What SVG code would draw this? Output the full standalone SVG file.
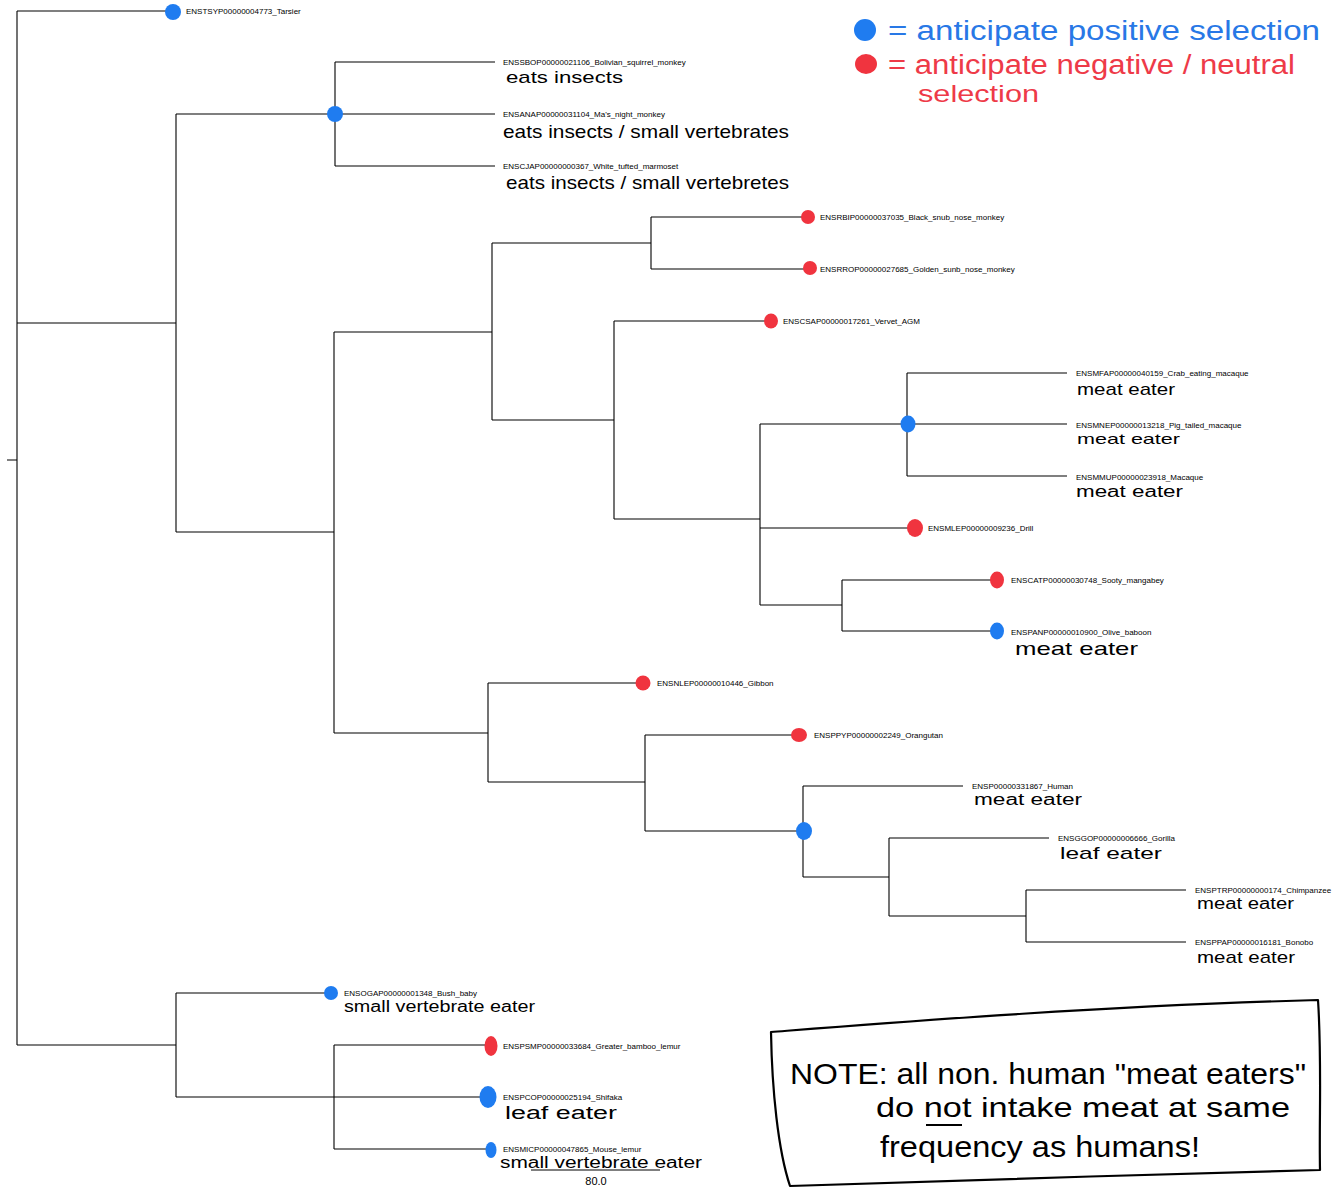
<svg xmlns="http://www.w3.org/2000/svg" width="1339" height="1193" viewBox="0 0 1339 1193">
<style>
.e{fill:none;stroke:#000;stroke-width:1.1}
.lb{font-family:"Liberation Sans",Arial,sans-serif;font-size:8px;fill:#000}
.hw{font-family:"Liberation Sans",Arial,sans-serif;font-size:17px;fill:#000}
.bd{fill:#1f7cf0}
.rd{fill:#f0343f}
.lgb{font-family:"Liberation Sans",Arial,sans-serif;font-size:27px;fill:#2878e6}
.lgr{font-family:"Liberation Sans",Arial,sans-serif;font-size:27px;fill:#ee3a48}
.nt{font-family:"Liberation Sans",Arial,sans-serif;font-size:29px;fill:#000}
</style>
<rect width="1339" height="1193" fill="#fff"/>
<g id="connectors">
<path class="e" d="M7,460H17M17,11V1045M17,11H172M17,323H176M17,1045H176"/>
<path class="e" d="M176,114V532M176,114H335M176,532H334"/>
<path class="e" d="M335,62V166M335,62H495M335,114H495M335,166H495"/>
<path class="e" d="M334,332V733M334,332H492M334,733H488"/>
<path class="e" d="M492,243V420M492,243H651M492,420H614"/>
<path class="e" d="M651,217V269M651,217H806M651,269H808"/>
<path class="e" d="M614,321V519M614,321H770M614,519H760"/>
<path class="e" d="M760,424V605M760,424H907M760,528H914M760,605H842"/>
<path class="e" d="M907,373V476M907,373H1067M907,424H1067M907,476H1067"/>
<path class="e" d="M842,580V631M842,580H996M842,631H996"/>
<path class="e" d="M488,683V782M488,683H643M488,782H645"/>
<path class="e" d="M645,735V831M645,735H798M645,831H803"/>
<path class="e" d="M803,786V877M803,786H963M803,877H889"/>
<path class="e" d="M889,838V916M889,838H1049M889,916H1026"/>
<path class="e" d="M1026,890V942M1026,890H1186M1026,942H1186"/>
<path class="e" d="M176,993V1097M176,993H330M176,1097H334"/>
<path class="e" d="M334,1045V1149M334,1045H490M334,1097H488M334,1149H490"/>
</g>
<g id="scale">
<path class="e" d="M531,1170H660"/>
<text class="lb" x="596" y="1185" text-anchor="middle" style="font-size:11px">80.0</text>
</g>
<g id="node-tarsier"><ellipse class="bd" cx="173" cy="12" rx="8" ry="8"/><text class="lb" x="186" y="14">ENSTSYP00000004773_Tarsier</text></g>
<g id="node-B"><ellipse class="bd" cx="335" cy="114" rx="8" ry="8"/></g>
<g id="node-bolivian"><text class="lb" x="503" y="65">ENSSBOP00000021106_Bolivian_squirrel_monkey</text><text class="hw" x="506" y="83" textLength="117" lengthAdjust="spacingAndGlyphs">eats insects</text></g>
<g id="node-night"><text class="lb" x="503" y="117">ENSANAP00000031104_Ma's_night_monkey</text><text class="hw" x="503" y="138" style="font-size:19px" textLength="286" lengthAdjust="spacingAndGlyphs">eats insects / small  vertebrates</text></g>
<g id="node-marmoset"><text class="lb" x="503" y="169">ENSCJAP00000000367_White_tufted_marmoset</text><text class="hw" x="506" y="189" style="font-size:19px" textLength="283" lengthAdjust="spacingAndGlyphs">eats insects / small vertebretes</text></g>
<g id="node-blacksnub"><ellipse class="rd" cx="808" cy="217" rx="7" ry="7"/><text class="lb" x="820" y="220">ENSRBIP00000037035_Black_snub_nose_monkey</text></g>
<g id="node-golden"><ellipse class="rd" cx="810" cy="268" rx="7" ry="7"/><text class="lb" x="820" y="272">ENSRROP00000027685_Golden_sunb_nose_monkey</text></g>
<g id="node-vervet"><ellipse class="rd" cx="771" cy="321" rx="7" ry="7.5"/><text class="lb" x="783" y="324">ENSCSAP00000017261_Vervet_AGM</text></g>
<g id="node-H"><ellipse class="bd" cx="908" cy="424" rx="7.5" ry="8.5"/></g>
<g id="node-crab"><text class="lb" x="1076" y="376">ENSMFAP00000040159_Crab_eating_macaque</text><text class="hw" x="1077" y="395" textLength="98" lengthAdjust="spacingAndGlyphs">meat eater</text></g>
<g id="node-pig"><text class="lb" x="1076" y="427.5">ENSMNEP00000013218_Pig_tailed_macaque</text><text class="hw" x="1077" y="444" style="font-size:15px" textLength="103" lengthAdjust="spacingAndGlyphs">meat eater</text></g>
<g id="node-macaque"><text class="lb" x="1076" y="480">ENSMMUP00000023918_Macaque</text><text class="hw" x="1076" y="497" style="font-size:16px" textLength="107" lengthAdjust="spacingAndGlyphs">meat  eater</text></g>
<g id="node-drill"><ellipse class="rd" cx="915" cy="528" rx="8" ry="9"/><text class="lb" x="928" y="531">ENSMLEP00000009236_Drill</text></g>
<g id="node-sooty"><ellipse class="rd" cx="997" cy="580" rx="7" ry="8.5"/><text class="lb" x="1011" y="583">ENSCATP00000030748_Sooty_mangabey</text></g>
<g id="node-olive"><ellipse class="bd" cx="997" cy="631" rx="7" ry="8.5"/><text class="lb" x="1011" y="635">ENSPANP00000010900_Olive_baboon</text><text class="hw" x="1015" y="655" style="font-size:19px" textLength="123" lengthAdjust="spacingAndGlyphs">meat  eater</text></g>
<g id="node-gibbon"><ellipse class="rd" cx="643" cy="683" rx="7.5" ry="7.5"/><text class="lb" x="657" y="686">ENSNLEP00000010446_Gibbon</text></g>
<g id="node-orangutan"><ellipse class="rd" cx="799" cy="735" rx="8" ry="7"/><text class="lb" x="814" y="738">ENSPPYP00000002249_Orangutan</text></g>
<g id="node-L"><ellipse class="bd" cx="804" cy="831" rx="8" ry="9"/></g>
<g id="node-human"><text class="lb" x="972" y="789">ENSP00000331867_Human</text><text class="hw" x="974" y="805" style="font-size:16px" textLength="108" lengthAdjust="spacingAndGlyphs">meat eater</text></g>
<g id="node-gorilla"><text class="lb" x="1058" y="841">ENSGGOP00000006666_Gorilla</text><text class="hw" x="1060" y="859" textLength="102" lengthAdjust="spacingAndGlyphs">leaf  eater</text></g>
<g id="node-chimp"><text class="lb" x="1195" y="892.5">ENSPTRP00000000174_Chimpanzee</text><text class="hw" x="1197" y="909" style="font-size:16px" textLength="97" lengthAdjust="spacingAndGlyphs">meat eater</text></g>
<g id="node-bonobo"><text class="lb" x="1195" y="945">ENSPPAP00000016181_Bonobo</text><text class="hw" x="1197" y="963" textLength="98" lengthAdjust="spacingAndGlyphs">meat eater</text></g>
<g id="node-bushbaby"><ellipse class="bd" cx="331" cy="993" rx="7" ry="7"/><text class="lb" x="344" y="995.5">ENSOGAP00000001348_Bush_baby</text><text class="hw" x="344" y="1012" style="font-size:16px" textLength="191" lengthAdjust="spacingAndGlyphs">small vertebrate eater</text></g>
<g id="node-bamboo"><ellipse class="rd" cx="491" cy="1046" rx="6.5" ry="10"/><text class="lb" x="503" y="1049">ENSPSMP00000033684_Greater_bamboo_lemur</text></g>
<g id="node-shifaka"><ellipse class="bd" cx="488" cy="1097" rx="8.5" ry="11"/><text class="lb" x="503" y="1100">ENSPCOP00000025194_Shifaka</text><text class="hw" x="505" y="1119" style="font-size:18px" textLength="112" lengthAdjust="spacingAndGlyphs">leaf  eater</text></g>
<g id="node-mouselemur"><ellipse class="bd" cx="491" cy="1150" rx="5.5" ry="8"/><text class="lb" x="503" y="1151.5">ENSMICP00000047865_Mouse_lemur</text><text class="hw" x="500" y="1168" style="font-size:16px" textLength="202" lengthAdjust="spacingAndGlyphs">small  vertebrate  eater</text></g>
<g id="legend">
<ellipse class="bd" cx="865" cy="30" rx="11" ry="11"/>
<text class="lgb" x="888" y="40" textLength="432" lengthAdjust="spacingAndGlyphs">= anticipate  positive selection</text>
<ellipse class="rd" cx="866" cy="64" rx="11" ry="10"/>
<text class="lgr" x="888" y="74" textLength="407" lengthAdjust="spacingAndGlyphs">= anticipate  negative / neutral</text>
<text class="lgr" x="918" y="102" style="font-size:24px" textLength="121" lengthAdjust="spacingAndGlyphs">selection</text>
</g>
<g id="note">
<path d="M771,1032C900,1022 1100,1006 1318,1000C1322,1060 1319,1120 1320,1170C1150,1175 950,1180 790,1186C778,1150 772,1090 771,1032Z" fill="none" stroke="#000" stroke-width="2.2" stroke-linejoin="round"/>
<text class="nt" x="790" y="1084" textLength="516" lengthAdjust="spacingAndGlyphs">NOTE: all non. human "meat eaters"</text>
<text class="nt" x="876" y="1117" style="font-size:28px" textLength="414" lengthAdjust="spacingAndGlyphs">do not intake meat at same</text>
<path d="M926,1125H962" stroke="#000" stroke-width="2" fill="none"/>
<text class="nt" x="880" y="1157" textLength="320" lengthAdjust="spacingAndGlyphs">frequency as humans!</text>
</g>
</svg>
